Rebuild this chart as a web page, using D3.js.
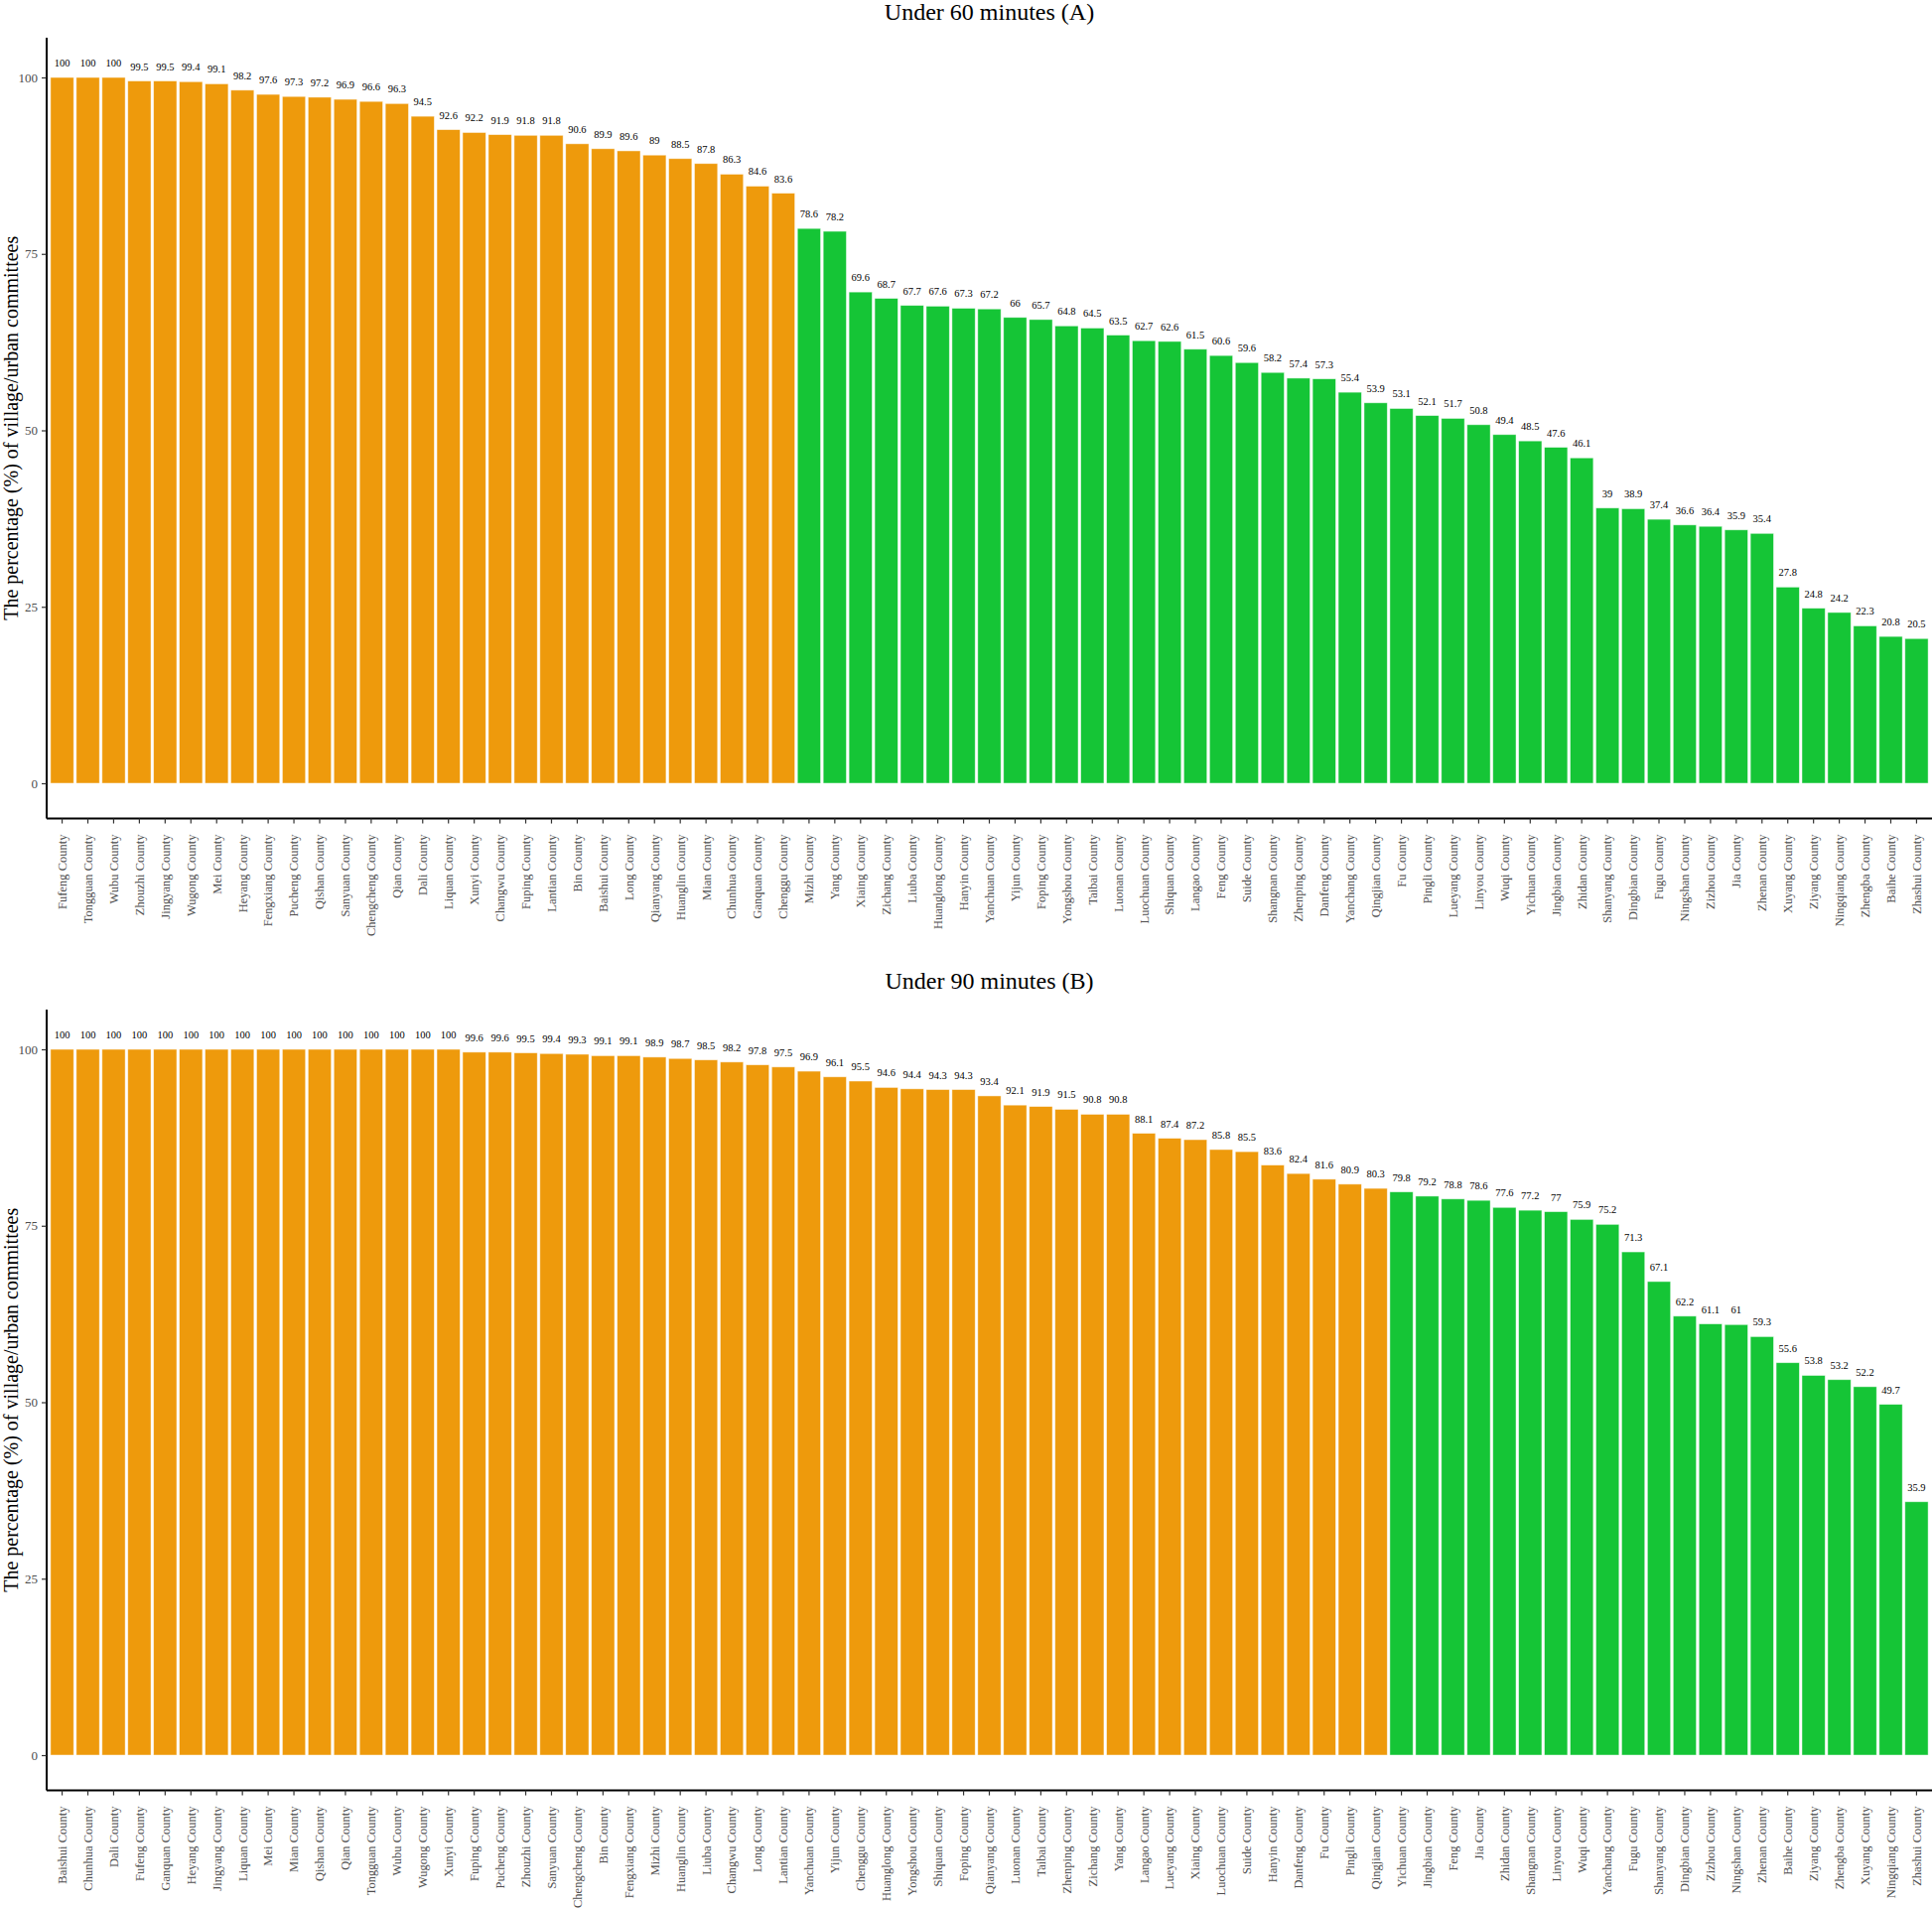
<!DOCTYPE html>
<html>
<head>
<meta charset="utf-8">
<script src="https://cdn.jsdelivr.net/npm/d3@7"></script>
<style>
  body { margin: 0; background: #fff; }
  text { font-family: "Liberation Serif", "Times New Roman", serif; }
</style>
</head>
<body>
<div class="chart"></div>
<script>
// chart data
var countiesA = ["Fufeng County","Tongguan County","Wubu County","Zhouzhi County","Jingyang County","Wugong County","Mei County","Heyang County","Fengxiang County","Pucheng County","Qishan County","Sanyuan County","Chengcheng County","Qian County","Dali County","Liquan County","Xunyi County","Changwu County","Fuping County","Lantian County","Bin County","Baishui County","Long County","Qianyang County","Huanglin County","Mian County","Chunhua County","Ganquan County","Chenggu County","Mizhi County","Yang County","Xiaing County","Zichang County","Liuba County","Huanglong County","Hanyin County","Yanchuan County","Yijun County","Foping County","Yongshou County","Taibai County","Luonan County","Luochuan County","Shiquan County","Langao County","Feng County","Suide County","Shangnan County","Zhenping County","Danfeng County","Yanchang County","Qingjian County","Fu County","Pingli County","Lueyang County","Linyou County","Wuqi County","Yichuan County","Jingbian County","Zhidan County","Shanyang County","Dingbian County","Fugu County","Ningshan County","Zizhou County","Jia County","Zhenan County","Xuyang County","Ziyang County","Ningqiang County","Zhengba County","Baihe County","Zhashui County"];
var valuesA = [100,100,100,99.5,99.5,99.4,99.1,98.2,97.6,97.3,97.2,96.9,96.6,96.3,94.5,92.6,92.2,91.9,91.8,91.8,90.6,89.9,89.6,89,88.5,87.8,86.3,84.6,83.6,78.6,78.2,69.6,68.7,67.7,67.6,67.3,67.2,66,65.7,64.8,64.5,63.5,62.7,62.6,61.5,60.6,59.6,58.2,57.4,57.3,55.4,53.9,53.1,52.1,51.7,50.8,49.4,48.5,47.6,46.1,39,38.9,37.4,36.6,36.4,35.9,35.4,27.8,24.8,24.2,22.3,20.8,20.5];

var countiesB = ["Baishui County","Chunhua County","Dali County","Fufeng County","Ganquan County","Heyang County","Jingyang County","Liquan County","Mei County","Mian County","Qishan County","Qian County","Tongguan County","Wubu County","Wugong County","Xunyi County","Fuping County","Pucheng County","Zhouzhi County","Sanyuan County","Chengcheng County","Bin County","Fengxiang County","Mizhi County","Huanglin County","Liuba County","Changwu County","Long County","Lantian County","Yanchuan County","Yijun County","Chenggu County","Huanglong County","Yongshou County","Shiquan County","Foping County","Qianyang County","Luonan County","Taibai County","Zhenping County","Zichang County","Yang County","Langao County","Lueyang County","Xiaing County","Luochuan County","Suide County","Hanyin County","Danfeng County","Fu County","Pingli County","Qingjian County","Yichuan County","Jingbian County","Feng County","Jia County","Zhidan County","Shangnan County","Linyou County","Wuqi County","Yanchang County","Fugu County","Shanyang County","Dingbian County","Zizhou County","Ningshan County","Zhenan County","Baihe County","Ziyang County","Zhengba County","Xuyang County","Ningqiang County","Zhashui County"];
var valuesB = [100,100,100,100,100,100,100,100,100,100,100,100,100,100,100,100,99.6,99.6,99.5,99.4,99.3,99.1,99.1,98.9,98.7,98.5,98.2,97.8,97.5,96.9,96.1,95.5,94.6,94.4,94.3,94.3,93.4,92.1,91.9,91.5,90.8,90.8,88.1,87.4,87.2,85.8,85.5,83.6,82.4,81.6,80.9,80.3,79.8,79.2,78.8,78.6,77.6,77.2,77,75.9,75.2,71.3,67.1,62.2,61.1,61,59.3,55.6,53.8,53.2,52.2,49.7,35.9];

var yTicks = [0, 25, 50, 75, 100];
var threshold = 80;
var highColor = "#EE9A0C";
var lowColor = "#15C536";

var svgWidth = 1946;
var svgHeight = 1924;

var svg = d3.select(".chart")
  .append("svg")
  .attr("width", svgWidth)
  .attr("height", svgHeight);

// one panel: title, axes, bars, value labels
function drawPanel(names, vals, title, cfg) {
  var g = svg.append("g");

  var x = d3.scaleBand()
    .domain(names)
    .range([cfg.left, cfg.right])
    .paddingInner(0.1)
    .paddingOuter(0.15);

  var y = d3.scaleLinear()
    .domain([0, 100])
    .range([cfg.zero, cfg.hundred]);

  var bottom = y(-5);

  // bars
  g.selectAll("rect")
    .data(vals)
    .enter()
    .append("rect")
    .attr("x", (d, i) => x(names[i]))
    .attr("width", x.bandwidth())
    .attr("y", d => y(d))
    .attr("height", d => y(0) - y(d))
    .attr("fill", d => d >= threshold ? highColor : lowColor)
    .attr("stroke", "#ffffff")
    .attr("stroke-opacity", 0.6)
    .attr("stroke-width", 0.8);

  // value labels
  g.selectAll(".val")
    .data(vals)
    .enter()
    .append("text")
    .attr("class", "val")
    .attr("x", (d, i) => x(names[i]) + x.bandwidth() / 2)
    .attr("y", d => y(d) - 11)
    .attr("text-anchor", "middle")
    .attr("font-size", "10.5px")
    .attr("fill", "#000")
    .text(d => d);

  // x axis
  var bottomAxis = d3.axisBottom(x).tickSize(5);
  var xAxis = g.append("g")
    .attr("transform", `translate(0, ${bottom})`)
    .call(bottomAxis);
  xAxis.select(".domain")
    .attr("d", `M${cfg.left},0H${cfg.right}`)
    .attr("stroke", "#000")
    .attr("stroke-width", 2);
  xAxis.selectAll(".tick line").attr("stroke", "#333").attr("stroke-width", 1.2);
  xAxis.selectAll(".tick text")
    .attr("transform", "rotate(-90)")
    .attr("x", -16)
    .attr("y", 0)
    .attr("dy", "0.35em")
    .attr("text-anchor", "end")
    .attr("font-size", "12.5px")
    .attr("font-family", "Liberation Serif, Times New Roman, serif")
    .attr("fill", "#4d4d4d");

  // y axis
  var leftAxis = d3.axisLeft(y).tickValues(yTicks).tickSize(5).tickPadding(4);
  var yAxis = g.append("g")
    .attr("transform", `translate(${cfg.left}, 0)`)
    .call(leftAxis);
  yAxis.select(".domain")
    .attr("d", `M0,${cfg.top}V${bottom}`)
    .attr("stroke", "#000")
    .attr("stroke-width", 2);
  yAxis.selectAll(".tick line").attr("stroke", "#333").attr("stroke-width", 1.2);
  yAxis.selectAll(".tick text")
    .attr("font-size", "13px")
    .attr("font-family", "Liberation Serif, Times New Roman, serif")
    .attr("fill", "#4d4d4d");

  // y axis title
  g.append("text")
    .attr("transform", `translate(18, ${(cfg.top + bottom) / 2}) rotate(-90)`)
    .attr("text-anchor", "middle")
    .attr("font-size", "20px")
    .attr("fill", "#000")
    .text("The percentage (%) of village/urban committees");

  // panel title
  g.append("text")
    .attr("x", (cfg.left + cfg.right) / 2)
    .attr("y", cfg.titleY)
    .attr("text-anchor", "middle")
    .attr("font-size", "24px")
    .attr("fill", "#000")
    .text(title);
}

drawPanel(countiesA, valuesA, "Under 60 minutes (A)",
  {left: 47, right: 1946, zero: 789, hundred: 78, top: 38, titleY: 20});
drawPanel(countiesB, valuesB, "Under 90 minutes (B)",
  {left: 47, right: 1946, zero: 1768, hundred: 1057, top: 1017, titleY: 996});
</script>
</body>
</html>
